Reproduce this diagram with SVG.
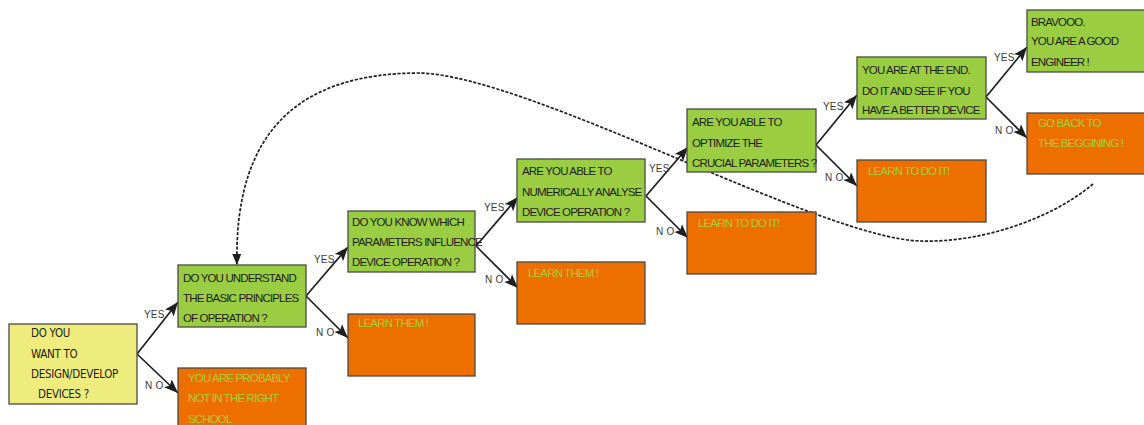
<svg xmlns="http://www.w3.org/2000/svg" width="1144" height="425" viewBox="0 0 1144 425">
<style>
  .box{stroke:#4a4a44;stroke-width:1.3}
  .yel{fill:#efec7e}
  .grn{fill:#9bcd42}
  .org{fill:#ed6f00}
  text{font-family:"Liberation Sans",Arial,sans-serif;font-size:11.5px;letter-spacing:-0.85px}
  .dk{fill:#1e1e1e}
  .lt{fill:#a4cf3c}
  .yt{font-family:"DejaVu Sans Condensed","DejaVu Sans",sans-serif;font-size:11.5px;letter-spacing:-0.3px;fill:#1e1e1e}
  .lbl{font-size:10px;letter-spacing:0.2px;fill:#3a3a3a}
  .arr{stroke:#1e1e1e;stroke-width:1.7;fill:none;marker-end:url(#ah)}
  .dash{stroke:#1e1e1e;stroke-width:1.7;fill:none;stroke-dasharray:3.2 1.6;marker-end:url(#ah2)}
</style>
<defs>
  <marker id="ah" markerUnits="userSpaceOnUse" markerWidth="15" markerHeight="13" viewBox="0 0 15 13" refX="14" refY="6.5" orient="auto">
    <path d="M0,1 L14,6.5 L0,12 L3,6.5 Z" fill="#1e1e1e"/>
  </marker>
  <marker id="ah2" markerUnits="userSpaceOnUse" markerWidth="12" markerHeight="10" viewBox="0 0 12 10" refX="11" refY="5" orient="auto">
    <path d="M0,0.5 L11,5 L0,9.5 Z" fill="#1e1e1e"/>
  </marker>
</defs>
<rect width="1144" height="425" fill="#ffffff"/>

<g id="connectors">
  <path class="arr" d="M137,354 L178,302"/>
  <path class="arr" d="M137,354 L178,393"/>
  <path class="arr" d="M306,296 L348,247"/>
  <path class="arr" d="M306,296 L348,338"/>
  <path class="arr" d="M476,246 L518,197"/>
  <path class="arr" d="M476,246 L518,288"/>
  <path class="arr" d="M646,196 L688,147"/>
  <path class="arr" d="M646,196 L688,238"/>
  <path class="arr" d="M816,145 L857,95"/>
  <path class="arr" d="M816,145 L857,186"/>
  <path class="arr" d="M986,97 L1027,47"/>
  <path class="arr" d="M986,97 L1027,138"/>
  <path class="dash" d="M1093,184 C1050,220 980,243 920,241 C820,238 530,76 420,73 C300,73 234,130 237,265"/>
  <text class="lbl" x="144" y="318">YES</text>
  <text class="lbl" x="145" y="389">N O</text>
  <text class="lbl" x="314" y="263">YES</text>
  <text class="lbl" x="316" y="336">N O</text>
  <text class="lbl" x="484" y="211">YES</text>
  <text class="lbl" x="485" y="283">N O</text>
  <text class="lbl" x="649" y="172">YES</text>
  <text class="lbl" x="656" y="235">N O</text>
  <text class="lbl" x="823" y="110">YES</text>
  <text class="lbl" x="825" y="181">N O</text>
  <text class="lbl" x="994" y="61">YES</text>
  <text class="lbl" x="995" y="134">N O</text>
</g>

<g id="n-start">
  <rect class="box yel" x="9" y="324" width="128" height="80"/>
  <text class="yt" x="31" y="337">DO YOU</text>
  <text class="yt" x="31" y="358">WANT TO</text>
  <text class="yt" x="31" y="378">DESIGN/DEVELOP</text>
  <text class="yt" x="38" y="398">DEVICES ?</text>
</g>

<g id="n-understand">
  <rect class="box grn" x="178" y="265" width="128" height="62"/>
  <text class="dk" x="183" y="282">DO  YOU UNDERSTAND</text>
  <text class="dk" x="183" y="302">THE BASIC PRINCIPLES</text>
  <text class="dk" x="183" y="322">OF OPERATION ?</text>
</g>
<g id="n-school">
  <rect class="box org" x="178" y="368" width="128" height="62"/>
  <text class="lt" x="188" y="382">YOU ARE PROBABLY</text>
  <text class="lt" x="188" y="402">NOT IN THE RIGHT</text>
  <text class="lt" x="188" y="423">SCHOOL</text>
</g>

<g id="n-parameters">
  <rect class="box grn" x="348" y="211" width="127" height="61"/>
  <text class="dk" x="352" y="226">DO  YOU KNOW WHICH</text>
  <text class="dk" x="352" y="246">PARAMETERS INFLUENCE</text>
  <text class="dk" x="352" y="266">DEVICE OPERATION ?</text>
</g>
<g id="n-learn1">
  <rect class="box org" x="348" y="314" width="127" height="62"/>
  <text class="lt" x="358" y="327">LEARN THEM !</text>
</g>

<g id="n-analyse">
  <rect class="box grn" x="517" y="159" width="128" height="63"/>
  <text class="dk" x="522" y="175">ARE YOU ABLE TO</text>
  <text class="dk" x="522" y="196">NUMERICALLY ANALYSE</text>
  <text class="dk" x="522" y="216">DEVICE OPERATION ?</text>
</g>
<g id="n-learn2">
  <rect class="box org" x="517" y="262" width="128" height="62"/>
  <text class="lt" x="528" y="277">LEARN THEM !</text>
</g>

<g id="n-optimize">
  <rect class="box grn" x="687" y="109" width="129" height="63"/>
  <text class="dk" x="692" y="126">ARE YOU ABLE TO</text>
  <text class="dk" x="692" y="147">OPTIMIZE THE</text>
  <text class="dk" x="692" y="167">CRUCIAL PARAMETERS ?</text>
</g>
<g id="n-learn3">
  <rect class="box org" x="687" y="212" width="129" height="62"/>
  <text class="lt" x="698" y="227">LEARN TO  DO  IT!</text>
</g>

<g id="n-end">
  <rect class="box grn" x="857" y="57" width="129" height="62"/>
  <text class="dk" x="862" y="74">YOU ARE AT THE END.</text>
  <text class="dk" x="862" y="95">DO  IT AND SEE IF YOU</text>
  <text class="dk" x="862" y="114">HAVE A BETTER DEVICE</text>
</g>
<g id="n-learn4">
  <rect class="box org" x="857" y="160" width="129" height="62"/>
  <text class="lt" x="868" y="175">LEARN TO  DO  IT!</text>
</g>

<g id="n-bravo">
  <rect class="box grn" x="1027" y="10" width="128" height="62"/>
  <text class="dk" x="1031" y="26">BRAVOOO.</text>
  <text class="dk" x="1031" y="45">YOU ARE A GOOD</text>
  <text class="dk" x="1031" y="66">ENGINEER !</text>
</g>
<g id="n-back">
  <rect class="box org" x="1027" y="113" width="128" height="61"/>
  <text class="lt" x="1038" y="127">GO  BACK TO</text>
  <text class="lt" x="1038" y="147">THE BEGGINING  !</text>
</g>
</svg>
